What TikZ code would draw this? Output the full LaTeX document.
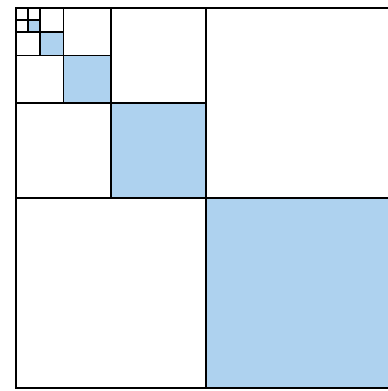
\documentclass[tikz,border=0pt]{standalone}
\usepackage{tikz}
\definecolor{quadblue}{RGB}{174,210,239}

\begin{document}
\begin{tikzpicture}[
            x=1pt, y=-1pt,
            cell/.style={draw=black, line width=1.5pt},
            shaded/.style={fill=quadblue}
        ]

        % Cornice della figura (lato destro tagliato)
        \useasboundingbox (0,0) rectangle (388,391);
        \clip (0,0) rectangle (388,391);

        % Riempimenti: quadrante in basso a destra di ogni livello
        \foreach \k in {0,...,4} {
            \pgfmathsetmacro{\h}{190/2^\k}
            \fill[shaded] (16+\h,8+\h) rectangle ++(\h,\h);
        }

        % Bordi e linee di suddivisione
        \foreach \k in {0,...,4} {
            \pgfmathsetmacro{\h}{190/2^\k}
            \draw[cell] (16,8) rectangle ++(2*\h,2*\h);
            \draw[cell] (16+\h,8) -- ++(0,2*\h);
            \draw[cell] (16,8+\h) -- ++(2*\h,0);
        }

    \end{tikzpicture}
\end{document}
